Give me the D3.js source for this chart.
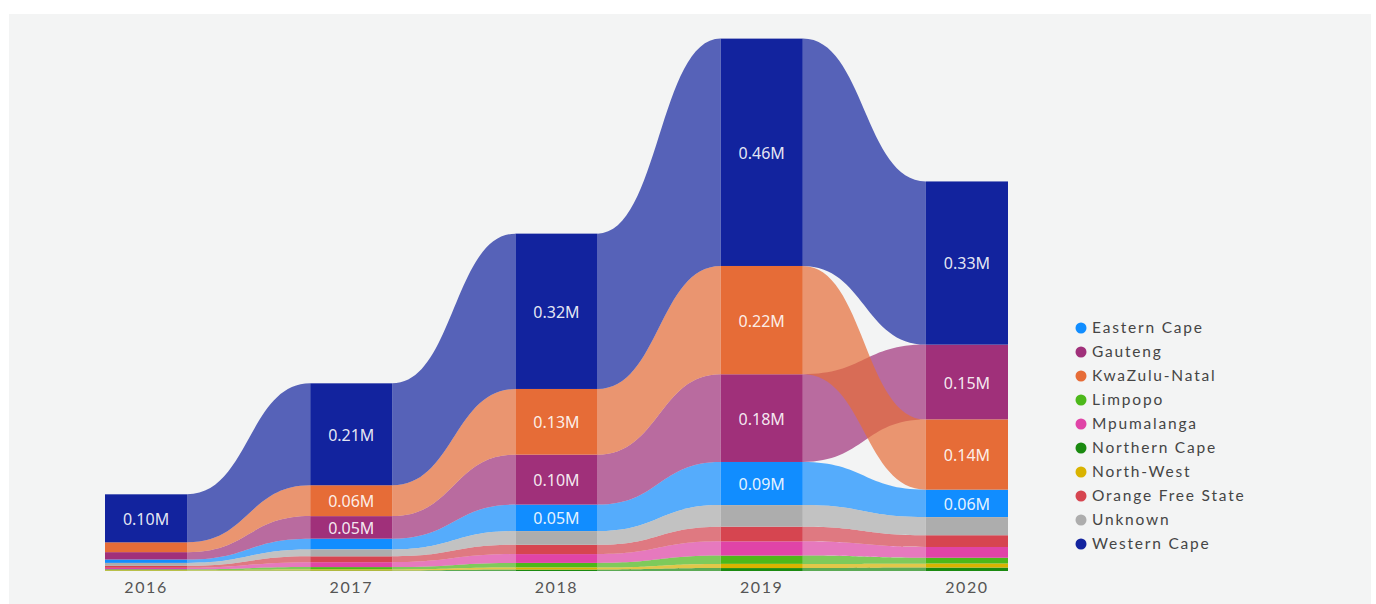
<!DOCTYPE html>
<html>
<head>
<meta charset="utf-8">
<script src="https://cdn.jsdelivr.net/npm/d3@7/dist/d3.min.js"></script>
<style>
  html, body { margin: 0; padding: 0; background: #ffffff; }
  svg { display: block; }
</style>
</head>
<body>
<svg id="chart" width="1376" height="604"></svg>
<script>
// Years on the x axis
const years = ["2016", "2017", "2018", "2019", "2020"];

// Provinces in legend order, with their colours
const provinces = ["Eastern Cape", "Gauteng", "KwaZulu-Natal", "Limpopo", "Mpumalanga",
                   "Northern Cape", "North-West", "Orange Free State", "Unknown", "Western Cape"];
const provinceColors = ["#118DFF", "#A0307A", "#E66C37", "#4CB81A", "#E044A7",
                        "#1A8A10", "#D9B300", "#D64550", "#ADADAD", "#12239E"];

// Values per province and year, in millions
const easternCape     = [0.007, 0.022, 0.054, 0.088, 0.056];
const gauteng         = [0.015, 0.046, 0.102, 0.179, 0.153];
const kwaZuluNatal    = [0.020, 0.063, 0.134, 0.221, 0.143];
const limpopo         = [0.002, 0.005, 0.0095, 0.017, 0.012];
const mpumalanga      = [0.003, 0.010, 0.018, 0.029, 0.022];
const northernCape    = [0.0005, 0.001, 0.003, 0.006, 0.007];
const northWest       = [0.001, 0.002, 0.004, 0.0085, 0.008];
const orangeFreeState = [0.004, 0.012, 0.019, 0.030, 0.024];
const unknown         = [0.006, 0.014, 0.028, 0.044, 0.037];
const westernCape     = [0.098, 0.208, 0.317, 0.464, 0.333];

const seriesValues = [easternCape, gauteng, kwaZuluNatal, limpopo, mpumalanga,
                      northernCape, northWest, orangeFreeState, unknown, westernCape];

const svg = d3.select("#chart");

// panel background
svg.append("rect").attr("x", 9).attr("y", 14).attr("width", 1362).attr("height", 590)
  .attr("fill", "#f3f4f4");

const x = d3.scaleBand().domain(years).range([105, 1008]).paddingInner(0.6).paddingOuter(0);
const y = d3.scaleLinear().domain([0, 1.1]).range([571, 571 - 1.1 * 490]);
const color = d3.scaleOrdinal().domain(provinces).range(provinceColors);

// ribbon stacking: in each year the largest value sits on top
const layout = years.map((yr, j) => {
  const items = provinces.map((p, i) => ({ name: p, year: yr, value: seriesValues[i][j] }));
  items.sort((a, b) => a.value - b.value);
  let acc = 0;
  const byName = {};
  items.forEach(d => { d.y0 = acc; acc += d.value; d.y1 = acc; byName[d.name] = d; });
  return byName;
});

// ribbons between neighbouring years
const ribbonG = svg.append("g");
for (let j = 0; j < years.length - 1; j++) {
  const xa = x(years[j]) + x.bandwidth();
  const xb = x(years[j + 1]);
  const xm = (xa + xb) / 2;
  provinces.forEach(p => {
    const a = layout[j][p], b = layout[j + 1][p];
    const path = d3.path();
    path.moveTo(xa, y(a.y1));
    path.bezierCurveTo(xm, y(a.y1), xm, y(b.y1), xb, y(b.y1));
    path.lineTo(xb, y(b.y0));
    path.bezierCurveTo(xm, y(b.y0), xm, y(a.y0), xa, y(a.y0));
    path.closePath();
    ribbonG.append("path").attr("d", path.toString())
      .attr("fill", color(p)).attr("fill-opacity", 0.7);
  });
}

// stacked bars
const barG = svg.append("g");
years.forEach((yr, j) => {
  provinces.forEach(p => {
    const d = layout[j][p];
    barG.append("rect")
      .attr("x", x(yr)).attr("width", x.bandwidth())
      .attr("y", y(d.y1)).attr("height", Math.max(0, y(d.y0) - y(d.y1)))
      .attr("fill", color(p));
  });
});

// value labels
const fmt = v => d3.format(".2f")(v) + "M";
const labelG = svg.append("g");
years.forEach((yr, j) => {
  provinces.forEach(p => {
    const d = layout[j][p];
    if (d.value >= 0.045) {
      labelG.append("text")
        .attr("x", x(yr) + x.bandwidth() / 2)
        .attr("y", (y(d.y0) + y(d.y1)) / 2)
        .attr("dy", "0.4em")
        .attr("text-anchor", "middle")
        .attr("font-family", "'Noto Sans', 'Open Sans', sans-serif")
        .attr("font-size", 16)
        .attr("fill", "#ffffff").attr("fill-opacity", 0.9)
        .text(fmt(d.value));
    }
  });
});

// x axis (year labels only)
const axis = svg.append("g").attr("transform", "translate(0,577)")
  .call(d3.axisBottom(x).tickSize(0).tickPadding(5));
axis.select(".domain").remove();
axis.selectAll("text")
  .attr("font-family", "Lato, 'Open Sans', sans-serif")
  .attr("font-size", 16)
  .attr("letter-spacing", "1.6px")
  .attr("fill", "#555555");

// legend
const legend = svg.append("g").attr("transform", "translate(1081,328)");
provinces.forEach((p, i) => {
  const row = legend.append("g").attr("transform", `translate(0,${i * 24})`);
  row.append("circle").attr("r", 5.5).attr("fill", color(p));
  row.append("text").attr("x", 11).attr("dy", "0.35em")
    .attr("font-family", "Lato, 'Open Sans', sans-serif")
    .attr("font-size", 15.5)
    .attr("letter-spacing", "1.8px")
    .attr("fill", "#454545")
    .text(p);
});
</script>
</body>
</html>
